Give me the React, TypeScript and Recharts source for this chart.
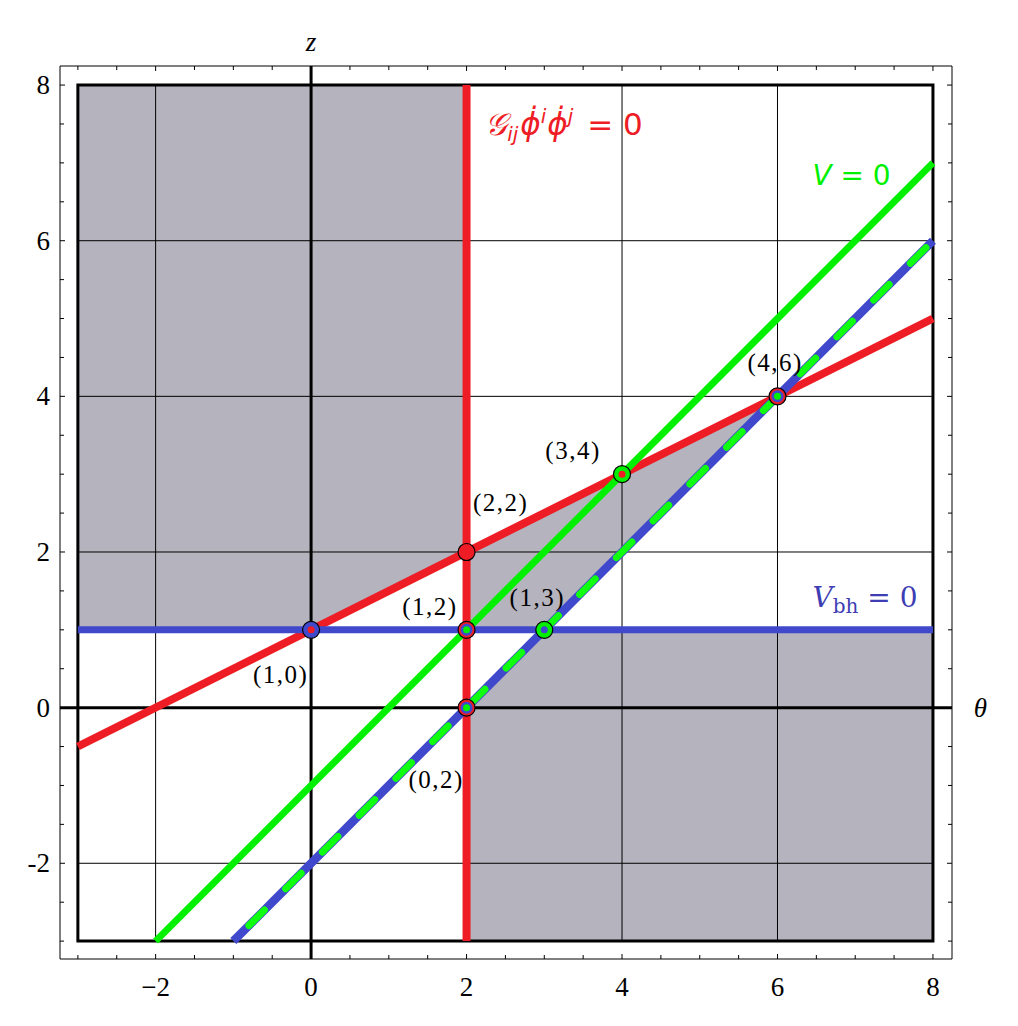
import { ComposedChart, XAxis, YAxis, Area, Line, Scatter, ReferenceLine, ReferenceArea, ReferenceDot } from 'recharts';

// plot range (theta and z share the same range)
const DOMAIN: [number, number] = [-3.23, 8.245];

const TICKS = [-3, -2.5, -2, -1.5, -1, -0.5, 0, 0.5, 1, 1.5, 2, 2.5, 3, 3.5, 4, 4.5, 5, 5.5, 6, 6.5, 7, 7.5, 8];
const MAJOR = [-2, 0, 2, 4, 6, 8];
const X_LABELS = ['\u22122', '0', '2', '4', '6', '8'];
const Y_LABELS = ['-2', '0', '2', '4', '6', '8'];
const GRID = [-2, 2, 4, 6];

// shaded regions, as [lower, upper] bands
const shadeLeft = [
  { x: -3, band: [1, 8] },
  { x: 0, band: [1, 8] },
  { x: 2, band: [2, 8] },
];
const shadeMid = [
  { x: 2, band: [1, 2] },
  { x: 3, band: [1, 2.5] },
  { x: 6, band: [4, 4] },
];
const shadeRight = [
  { x: 2, band: [-3, 0] },
  { x: 3, band: [-3, 1] },
  { x: 8, band: [-3, 1] },
];

// curves
const gVertical = [{ x: 2, y: -3 }, { x: 2, y: 8 }];
const gSlope = [{ x: -3, y: -0.5 }, { x: 8, y: 5 }];
const vbhLine = [{ x: -3, y: 1 }, { x: 8, y: 1 }];
const vLine = [{ x: -2, y: -3 }, { x: 8, y: 7 }];
const bothLine = [{ x: -1, y: -3 }, { x: 8, y: 6 }];

// critical points
const ptsBlueRed = [{ x: 0, y: 1 }];
const ptsRed = [{ x: 2, y: 2 }];
const ptsRedBlueGreen = [{ x: 2, y: 1 }, { x: 2, y: 0 }, { x: 6, y: 4 }];
const ptsGreenBlue = [{ x: 3, y: 1 }];
const ptsGreenRed = [{ x: 4, y: 3 }];

const pointLabels = ['(1,0)', '(2,2)', '(1,2)', '(1,3)', '(3,4)', '(4,6)', '(0,2)'];
const labelAt = [
  [-0.39, 0.42], [2.44, 2.63], [1.53, 1.3], [2.91, 1.41], [3.37, 3.31], [5.97, 4.43], [1.61, -0.92],
];

const RED = '#ee1d25';
const BLUE = '#4048cc';
const GREEN = '#00f000';
const GRAY = '#b4b3be';
const SERIF = '"Liberation Serif", "Times New Roman", serif';

const ring = (colors: string[]) => (p: any) => {
  const radii = colors.length === 1 ? [8.5] : colors.length === 2 ? [8.5, 3.5] : [8.5, 6, 3.5];
  return (
    <g>
      {colors.map((c, i) => (
        <circle key={i} cx={p.cx} cy={p.cy} r={radii[i]} fill={c} stroke={i === 0 ? '#000' : 'none'} strokeWidth={1.2} />
      ))}
    </g>
  );
};

const tickMark = (side: 'bottom' | 'top' | 'left' | 'right') => (p: any) => {
  const { x, y, payload } = p;
  const idx = MAJOR.indexOf(payload.value);
  const len = idx >= 0 ? 5 : 4;
  let line;
  if (side === 'bottom') line = <line x1={x} x2={x} y1={y} y2={y - len} stroke="#000" />;
  else if (side === 'top') line = <line x1={x} x2={x} y1={y} y2={y + len} stroke="#000" />;
  else if (side === 'left') line = <line x1={x} x2={x + len} y1={y} y2={y} stroke="#000" />;
  else line = <line x1={x} x2={x - len} y1={y} y2={y} stroke="#000" />;
  return (
    <g>
      {line}
      {idx >= 0 && side === 'bottom' && (
        <text x={x} y={y + 28} textAnchor="middle" dominantBaseline="central" fontFamily={SERIF} fontSize={27} fill="#000">
          {X_LABELS[idx]}
        </text>
      )}
      {idx >= 0 && side === 'left' && (
        <text x={x - 10} y={y} textAnchor="end" dominantBaseline="central" fontFamily={SERIF} fontSize={27} fill="#000">
          {Y_LABELS[idx]}
        </text>
      )}
    </g>
  );
};

const GText = (p: any) => (
  <text x={p.cx} y={p.cy} fill={RED} fontFamily='"DejaVu Sans", sans-serif' fontSize={31}>
    <tspan fontStyle="italic">{'\u{1D4A2}'}</tspan>
    <tspan fontSize={20} fontStyle="italic" dy={6}>ij</tspan>
    <tspan fontStyle="italic" dy={-6} dx={2}>{'\u03D5\u0307'}</tspan>
    <tspan fontSize={20} fontStyle="italic" dy={-12}>i</tspan>
    <tspan fontStyle="italic" dy={12} dx={1}>{'\u03D5\u0307'}</tspan>
    <tspan fontSize={20} fontStyle="italic" dy={-12}>j</tspan>
    <tspan dy={12} dx={4}>{' = 0'}</tspan>
  </text>
);

const VText = (p: any) => (
  <text x={p.cx} y={p.cy} fill={GREEN} fontFamily='"DejaVu Sans", sans-serif' fontSize={28}>
    <tspan fontStyle="italic">V</tspan>
    <tspan>{' = 0'}</tspan>
  </text>
);

const VbhText = (p: any) => (
  <text x={p.cx} y={p.cy} fill="#3d3db4" fontFamily='"DejaVu Serif", serif' fontSize={28}>
    <tspan fontStyle="italic">V</tspan>
    <tspan fontSize={20} dy={6}>bh</tspan>
    <tspan dy={-6}>{' = 0'}</tspan>
  </text>
);

const PointLabel = (text: string) => (p: any) => (
  <text x={p.cx} y={p.cy} textAnchor="middle" dominantBaseline="central" fontFamily={SERIF} fontSize={25} letterSpacing={1.5} fill="#000">
    {text}
  </text>
);

const AxisName = (text: string) => (p: any) => (
  <text x={p.cx} y={p.cy} textAnchor="middle" dominantBaseline="central" fontFamily={SERIF} fontStyle="italic" fontSize={27} fill="#000">
    {text}
  </text>
);

const lineProps = { type: 'linear' as const, dataKey: 'y', dot: false, activeDot: false, isAnimationActive: false };

export default function App() {
  return (
    <ComposedChart width={1002} height={1010} margin={{ top: 57, right: 57, bottom: 58, left: 51 }}>
      <XAxis dataKey="x" type="number" domain={DOMAIN} allowDataOverflow ticks={TICKS} interval={0}
        height={1} tickSize={0} tickMargin={0} tickLine={false} stroke="#000" tick={tickMark('bottom')} />
      <XAxis xAxisId="top" orientation="top" dataKey="x" type="number" domain={DOMAIN} allowDataOverflow ticks={TICKS} interval={0}
        height={1} tickSize={0} tickMargin={0} tickLine={false} stroke="#000" tick={tickMark('top')} />
      <YAxis dataKey="y" type="number" domain={DOMAIN} allowDataOverflow ticks={TICKS} interval={0}
        width={1} tickSize={0} tickMargin={0} tickLine={false} stroke="#000" tick={tickMark('left')} />
      <YAxis yAxisId="right" orientation="right" dataKey="y" type="number" domain={DOMAIN} allowDataOverflow ticks={TICKS} interval={0}
        width={1} tickSize={0} tickMargin={0} tickLine={false} stroke="#000" tick={tickMark('right')} />

      <Area data={shadeLeft} dataKey="band" type="linear" stroke="none" fill={GRAY} fillOpacity={1} isAnimationActive={false} />
      <Area data={shadeMid} dataKey="band" type="linear" stroke="none" fill={GRAY} fillOpacity={1} isAnimationActive={false} />
      <Area data={shadeRight} dataKey="band" type="linear" stroke="none" fill={GRAY} fillOpacity={1} isAnimationActive={false} />

      {GRID.map((g) => (
        <ReferenceLine key={`gx${g}`} segment={[{ x: g, y: -3 }, { x: g, y: 8 }]} stroke="#000" strokeWidth={1} />
      ))}
      {GRID.map((g) => (
        <ReferenceLine key={`gy${g}`} segment={[{ x: -3, y: g }, { x: 8, y: g }]} stroke="#000" strokeWidth={1} />
      ))}
      <ReferenceLine x={0} stroke="#000" strokeWidth={3} />
      <ReferenceLine y={0} stroke="#000" strokeWidth={3} />
      <ReferenceArea x1={-3} x2={8} y1={-3} y2={8} fill="none" stroke="#000" strokeWidth={3} />

      <Line {...lineProps} data={gSlope} stroke={RED} strokeWidth={8} />
      <Line {...lineProps} data={gVertical} stroke={RED} strokeWidth={8} />
      <Line {...lineProps} data={vbhLine} stroke={BLUE} strokeWidth={7} />
      <Line {...lineProps} data={bothLine} stroke={BLUE} strokeWidth={8.5} />
      <Line {...lineProps} data={bothLine} stroke="#10ff10" strokeWidth={7} strokeDasharray="22 30" strokeDashoffset={30}
        strokeLinecap="round" />
      <Line {...lineProps} data={vLine} stroke={GREEN} strokeWidth={7} />

      <Scatter data={ptsBlueRed} dataKey="y" shape={ring([BLUE, RED])} isAnimationActive={false} />
      <Scatter data={ptsRed} dataKey="y" shape={ring([RED])} isAnimationActive={false} />
      <Scatter data={ptsRedBlueGreen} dataKey="y" shape={ring([RED, BLUE, GREEN])} isAnimationActive={false} />
      <Scatter data={ptsGreenBlue} dataKey="y" shape={ring([GREEN, BLUE])} isAnimationActive={false} />
      <Scatter data={ptsGreenRed} dataKey="y" shape={ring([GREEN, RED])} isAnimationActive={false} />

      {pointLabels.map((t, i) => (
        <ReferenceDot key={t} x={labelAt[i][0]} y={labelAt[i][1]} r={1} ifOverflow="visible" shape={PointLabel(t)} />
      ))}
      <ReferenceDot x={2.24} y={7.36} r={1} ifOverflow="visible" shape={GText} />
      <ReferenceDot x={6.45} y={6.72} r={1} ifOverflow="visible" shape={VText} />
      <ReferenceDot x={6.45} y={1.29} r={1} ifOverflow="visible" shape={VbhText} />
      <ReferenceDot x={0} y={8.55} r={1} ifOverflow="visible" shape={AxisName('z')} />
      <ReferenceDot x={8.61} y={0} r={1} ifOverflow="visible" shape={AxisName('\u03B8')} />
    </ComposedChart>
  );
}
